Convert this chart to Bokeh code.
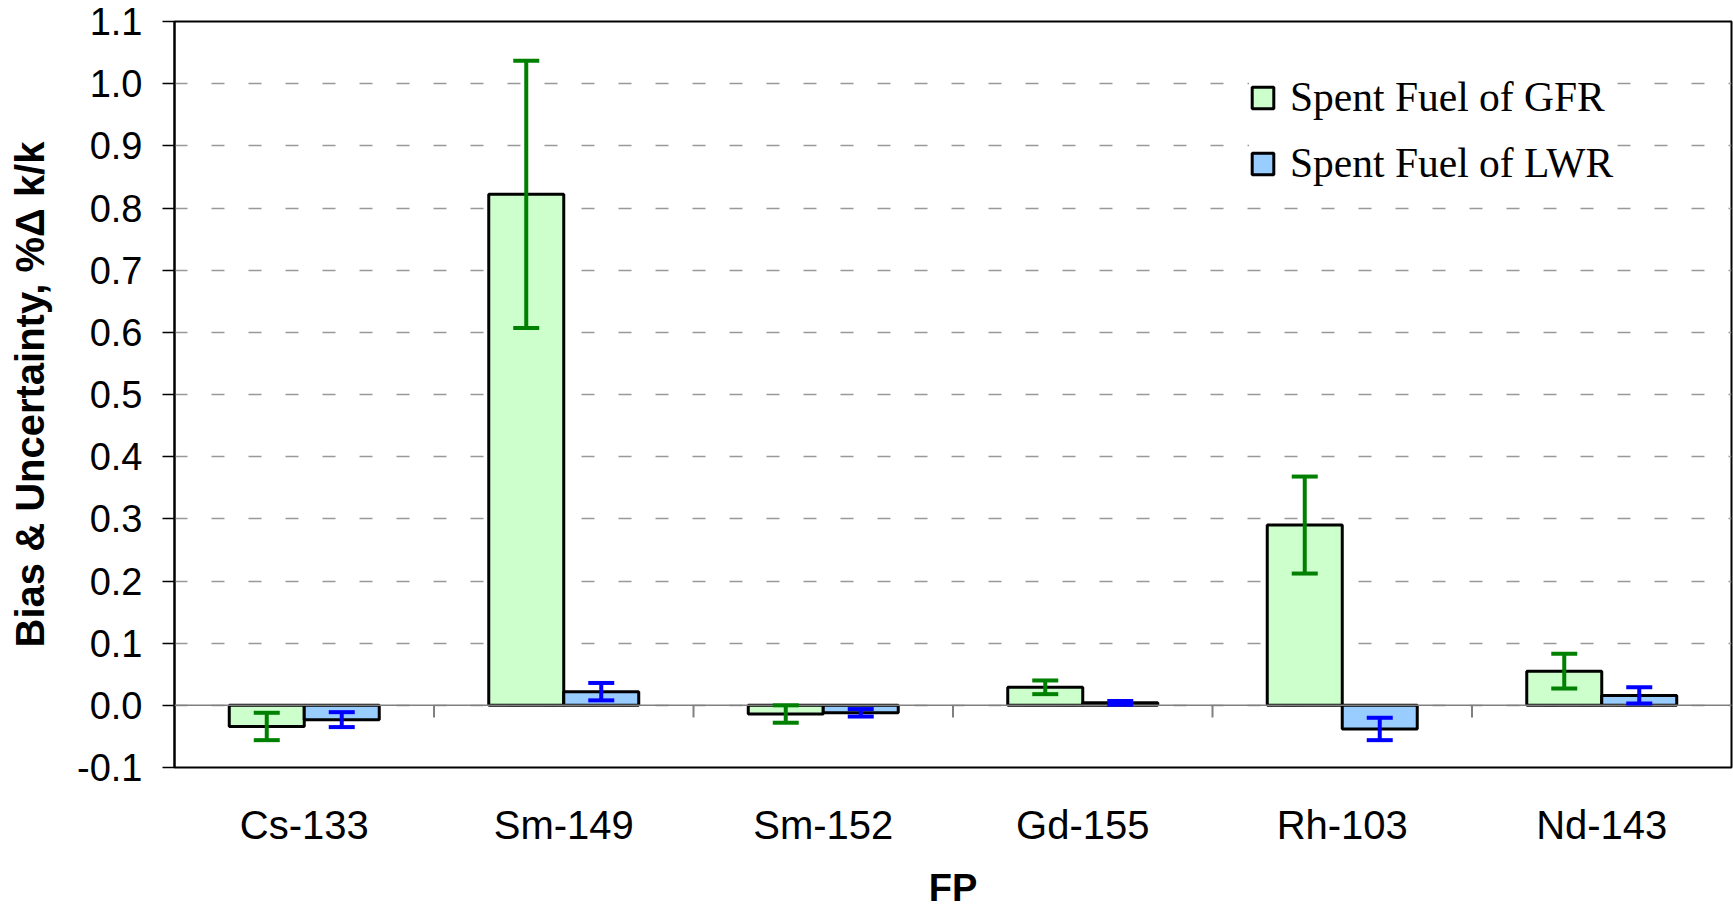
from bokeh.plotting import figure
from bokeh.models import (ColumnDataSource, FactorRange, Range1d, FixedTicker, NumeralTickFormatter,
                          Whisker, TeeHead, Span, Legend, LegendItem)
from bokeh.transform import dodge
from bokeh.embed import file_html
from bokeh.resources import INLINE

categories = ["Cs-133", "Sm-149", "Sm-152", "Gd-155", "Rh-103", "Nd-143"]
gfr_bias = [-0.034, 0.822, -0.014, 0.029, 0.290, 0.055]
gfr_unc = [0.022, 0.215, 0.014, 0.011, 0.078, 0.028]
lwr_bias = [-0.023, 0.022, -0.012, 0.004, -0.038, 0.016]
lwr_unc = [0.012, 0.014, 0.006, 0.003, 0.018, 0.013]
y_ticks = [-0.1, 0.0, 0.1, 0.2, 0.3, 0.4, 0.5, 0.6, 0.7, 0.8, 0.9, 1.0, 1.1]
series_names = ["Spent Fuel of GFR", "Spent Fuel of LWR"]

src = ColumnDataSource(dict(
    cat=categories,
    gfr=gfr_bias,
    gfr_lo=[b - u for b, u in zip(gfr_bias, gfr_unc)],
    gfr_hi=[b + u for b, u in zip(gfr_bias, gfr_unc)],
    lwr=lwr_bias,
    lwr_lo=[b - u for b, u in zip(lwr_bias, lwr_unc)],
    lwr_hi=[b + u for b, u in zip(lwr_bias, lwr_unc)],
))

p = figure(width=1733, height=911, output_backend="svg", toolbar_location=None,
           x_range=FactorRange(*categories, range_padding=0),
           y_range=Range1d(-0.1, 1.1),
           min_border_left=174, min_border_right=2, min_border_top=21, min_border_bottom=144)
p.background_fill_color = "white"
p.border_fill_color = "white"
p.outline_line_color = "black"
p.outline_line_width = 2

# grid
p.xgrid.grid_line_color = None
p.ygrid.ticker = FixedTicker(ticks=y_ticks)
p.ygrid.grid_line_color = "#999999"
p.ygrid.grid_line_width = 1.5
p.ygrid.grid_line_dash = "13 24"

# zero line
p.add_layout(Span(location=0, dimension="width", line_color="#808080", line_width=1.5))

# category separator ticks on zero line
sep_src = ColumnDataSource(dict(cat=categories[:-1], y0=[0.0] * 5, y1=[-0.0195] * 5))
p.segment(x0=dodge("cat", 0.5, range=p.x_range), x1=dodge("cat", 0.5, range=p.x_range),
          y0="y0", y1="y1", source=sep_src, line_color="#808080", line_width=2)

bw = 0.289
r1 = p.vbar(x=dodge("cat", -bw / 2, range=p.x_range), top="gfr", bottom=0, width=bw, source=src,
            fill_color="#CCFFCC", line_color="black", line_width=3)
r2 = p.vbar(x=dodge("cat", bw / 2, range=p.x_range), top="lwr", bottom=0, width=bw, source=src,
            fill_color="#99CCFF", line_color="black", line_width=3)

w1 = Whisker(base=dodge("cat", -bw / 2, range=p.x_range), lower="gfr_lo", upper="gfr_hi", source=src,
             line_color="#008000", line_width=4, level="overlay",
             upper_head=TeeHead(size=26, line_color="#008000", line_width=4),
             lower_head=TeeHead(size=26, line_color="#008000", line_width=4))
w2 = Whisker(base=dodge("cat", bw / 2, range=p.x_range), lower="lwr_lo", upper="lwr_hi", source=src,
             line_color="#0000FF", line_width=4, level="overlay",
             upper_head=TeeHead(size=26, line_color="#0000FF", line_width=4),
             lower_head=TeeHead(size=26, line_color="#0000FF", line_width=4))
p.add_layout(w1)
p.add_layout(w2)

# y axis
yax = p.yaxis[0]
yax.ticker = FixedTicker(ticks=y_ticks)
yax.formatter = NumeralTickFormatter(format="0.0")
yax.major_label_text_font = "Liberation Sans"
yax.major_label_text_font_size = "38px"
yax.major_label_text_color = "black"
yax.axis_line_color = "black"
yax.axis_line_width = 2
yax.major_tick_line_color = "black"
yax.major_tick_line_width = 1.5
yax.major_tick_in = 0
yax.major_tick_out = 12
yax.minor_tick_line_color = None
yax.major_label_standoff = 20
yax.axis_label = "Bias & Uncertainty, %Δ k/k"
yax.axis_label_text_font = "Liberation Sans"
yax.axis_label_text_font_style = "bold"
yax.axis_label_text_font_size = "40px"
yax.axis_label_text_color = "black"
yax.axis_label_standoff = 22

# x axis
xax = p.xaxis[0]
xax.axis_line_color = None
xax.major_tick_line_color = None
xax.major_label_text_font = "Liberation Sans"
xax.major_label_text_font_size = "40px"
xax.major_label_text_color = "black"
xax.major_label_standoff = 29
xax.axis_label = "FP"
xax.axis_label_text_font = "Liberation Sans"
xax.axis_label_text_font_style = "bold"
xax.axis_label_text_font_size = "38px"
xax.axis_label_text_color = "black"
xax.axis_label_standoff = 17

legend = Legend(items=[LegendItem(label=series_names[0], renderers=[r1]),
                       LegendItem(label=series_names[1], renderers=[r2])],
                location=(1075, 580), orientation="vertical",
                label_text_font="Liberation Serif", label_text_font_size="41.5px",
                label_text_color="black",
                glyph_width=27, glyph_height=27, label_height=46, spacing=18,
                padding=10, margin=0, border_line_color=None,
                background_fill_color="white", background_fill_alpha=1.0,
                label_standoff=14)
p.add_layout(legend, "center")

open("out.html", "w").write(file_html(p, INLINE))
